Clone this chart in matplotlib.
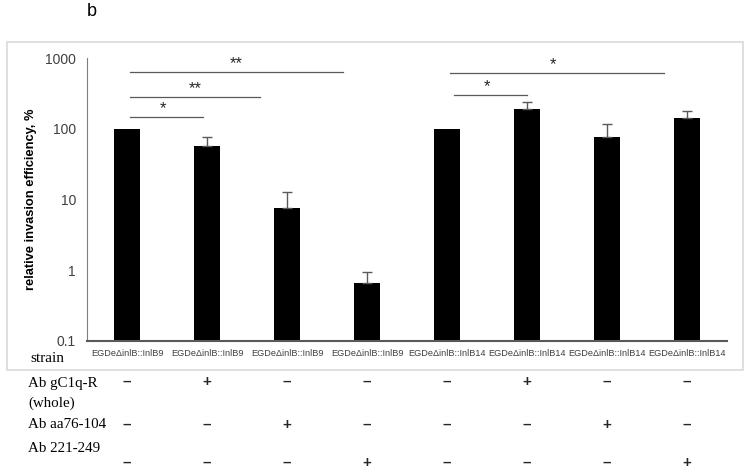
import matplotlib.pyplot as plt
import matplotlib.patches as mpatches
import matplotlib.transforms as mtrans

# ---- data ----
strains = ["EGDeΔinlB::InlB9"] * 4 + ["EGDeΔinlB::InlB14"] * 4
values = [100, 57, 7.6, 0.67, 100, 190, 76, 140]
err_up = [0, 20, 5.0, 0.28, 0, 45, 40, 40]

row_labels = ["Ab gC1q-R", "(whole)", "Ab aa76-104", "Ab 221-249"]
ab_gc1q = ["–", "+", "–", "–", "–", "+", "–", "–"]
ab_aa76 = ["–", "–", "+", "–", "–", "–", "+", "–"]
ab_221 = ["–", "–", "–", "+", "–", "–", "–", "+"]

# significance brackets: (x start, x end, y, label)
brackets = [
    (0.04, 0.95, 147, "*"),
    (0.04, 1.66, 282, "**"),
    (0.04, 2.70, 630, "**"),
    (4.09, 5.00, 300, "*"),
    (4.04, 6.71, 610, "*"),
]

W, H = 751, 474
fig = plt.figure(figsize=(W / 100, H / 100), dpi=100)
ax = fig.add_axes([87 / W, 1 - 341 / H, 640 / W, 283 / H])

# light frame around the chart area
fig.patches.append(mpatches.Rectangle((7 / W, 1 - 370 / H), 736 / W, 328 / H,
                                      transform=fig.transFigure, fill=False,
                                      edgecolor="#d9d9d9", lw=1.2))

x = list(range(len(values)))
ax.bar(x, values, width=0.32, color="black", zorder=2)
ex = [xi for xi, e in zip(x, err_up) if e > 0]
ev = [v for v, e in zip(values, err_up) if e > 0]
ee = [e for e in err_up if e > 0]
ax.errorbar(ex, ev, yerr=[[0] * len(ee), ee], fmt="none",
            ecolor="#595959", elinewidth=1, capsize=3.5, capthick=1, zorder=3)

ax.set_yscale("log")
ax.set_ylim(0.1, 1000)
ax.set_xlim(-0.5, len(values) - 0.5)
ax.set_yticks([0.1, 1, 10, 100, 1000])
ax.set_yticklabels(["0.1", "1", "10", "100", "1000"])
ax.yaxis.set_minor_locator(plt.NullLocator())
ax.tick_params(axis="y", length=0, pad=8, labelsize=10, labelcolor="#404040")
ax.tick_params(axis="x", length=0, pad=6, labelsize=6.6, labelcolor="#404040")
for lab in ax.get_yticklabels() + ax.get_xticklabels():
    lab.set_family("Liberation Sans")
ax.set_xticks(x)
ax.set_xticklabels(strains)

for s in ("top", "right"):
    ax.spines[s].set_visible(False)
ax.spines["bottom"].set_color("#595959")
ax.spines["bottom"].set_linewidth(1.5)
ax.spines["left"].set_color("#7f7f7f")
ax.spines["left"].set_linewidth(0.8)

ax.set_ylabel("relative invasion efficiency, %", fontsize=9.3, fontweight="bold",
              family="Liberation Sans")
ax.yaxis.set_label_coords(-(87 - 37) / 640, 0.5)

for x0, x1, y, lab in brackets:
    ax.plot([x0, x1], [y, y], color="#595959", lw=0.9, clip_on=False)
    ax.text((x0 + x1) / 2 - (0.05 if len(lab) == 1 else 0), y * 1.03, lab,
            ha="center", va="bottom", fontsize=12, color="#262626",
            family="Liberation Sans")

fig.text(87 / W, 1 - 12 / H, "b", fontsize=13, va="center", ha="left",
         family="Liberation Sans")
fig.text(30 / W, 1 - 358 / H, "strain", fontsize=11, va="center",
         ha="left", family="Liberation Serif")

# antibody table under the chart
for lab, ly in zip(row_labels, [383, 403, 424, 448]):
    fig.text(28 / W, 1 - ly / H, lab, fontsize=10.8, va="center", ha="left",
             family="Liberation Serif")

trans = mtrans.blended_transform_factory(ax.transData, fig.transFigure)
for row, sy in zip([ab_gc1q, ab_aa76, ab_221], [382, 425, 463]):
    for xi, sgn in zip(x, row):
        ax.text(xi, 1 - sy / H, sgn, transform=trans, ha="center", va="center",
                fontsize=11, fontweight="bold", family="Liberation Sans",
                color="#262626")

fig.savefig("out.png", dpi=100)
